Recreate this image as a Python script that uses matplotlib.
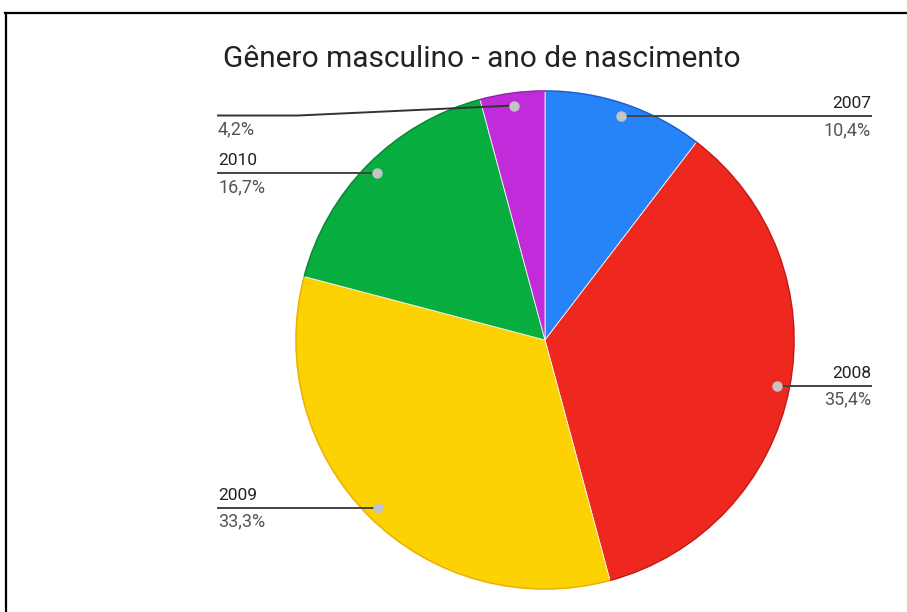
import numpy as np
import matplotlib.pyplot as plt
from matplotlib.patches import Arc
from matplotlib.lines import Line2D

plt.rcParams['font.family'] = ['Roboto', 'DejaVu Sans']

# dados: ano de nascimento (gênero masculino), em %
anos = ["2007", "2008", "2009", "2010", ""]
percentuais = [10.4, 35.4, 33.3, 16.7, 4.2]
cores = ["#2684F8", "#EF281F", "#FCD202", "#07AE3F", "#C22BD9"]
bordas = ["#1B5FD6", "#C41B14", "#EDB300", "#058A33", "#9A1FB0"]

W, H = 907, 612
cx, cy, raio = 545, H - 340, 249

fig = plt.figure(figsize=(W / 100, H / 100), dpi=100)
ax = fig.add_axes([0, 0, 1, 1])

wedges, _ = ax.pie(
    percentuais,
    colors=cores,
    startangle=90,
    counterclock=False,
    center=(cx, cy),
    radius=raio,
    wedgeprops=dict(edgecolor="#f4f4f4", linewidth=0.6),
    frame=True,
)
ax.set_xlim(0, W)
ax.set_ylim(0, H)
ax.axis("off")

# contorno externo de cada fatia, um tom mais escuro
for w, b in zip(wedges, bordas):
    ax.add_patch(Arc((cx, cy), 2 * raio, 2 * raio, theta1=w.theta1,
                     theta2=w.theta2, color=b, lw=1.2))

x_dir, x_esq = 871, 218
acum = 0
for ano, p in zip(anos, percentuais):
    meio = 90 - (acum + p / 2) * 3.6
    acum += p
    ang = np.deg2rad(meio)
    px = cx + 0.95 * raio * np.cos(ang)
    py = cy + 0.95 * raio * np.sin(ang)
    texto_pct = f"{p:.1f}%".replace(".", ",")
    ly = py
    if px > cx:
        ax.plot([px, x_dir], [ly, ly], color="#444444", lw=1.4, zorder=3)
        tx, ha = x_dir, "right"
    else:
        if ano == "":
            # rótulo deslocado para baixo, com linha dobrada
            ly = py - 10
            ax.plot([px, x_esq + 80, x_esq], [py, ly, ly], color="#333333",
                    lw=1.4, zorder=3)
        else:
            ax.plot([px, x_esq], [ly, ly], color="#444444", lw=1.4, zorder=3)
        tx, ha = x_esq, "left"
    ax.plot(px, py, "o", ms=6.5, color="#C4C4C4", zorder=4)
    ax.text(tx, ly + 5, ano, ha=ha, va="bottom", fontsize=12.5, color="#222222")
    ax.text(tx, ly - 5, texto_pct, ha=ha, va="top", fontsize=13, color="#555555")

ax.text(482, H - 59, "Gênero masculino - ano de nascimento", ha="center",
        va="center", fontsize=21.5, color="#222222")

# moldura (aberta à direita e embaixo)
fig.add_artist(Line2D([5 / W, 1], [1 - 13 / H, 1 - 13 / H], color="black",
                      lw=1.6, transform=fig.transFigure))
fig.add_artist(Line2D([6 / W, 6 / W], [0, 1 - 13 / H], color="black",
                      lw=1.6, transform=fig.transFigure))

fig.savefig("out.png", dpi=100, facecolor="white")
